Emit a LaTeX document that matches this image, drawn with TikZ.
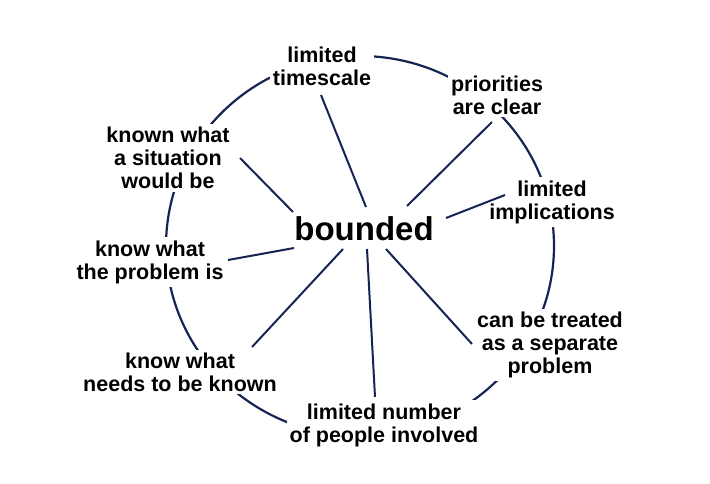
\documentclass[tikz,border=0pt]{standalone}
\usepackage{fontspec}
\setmainfont{Liberation Sans}
\usepackage{tikz}
\usetikzlibrary{calc}
\definecolor{ringblue}{RGB}{22,36,84}

\begin{document}
\begin{tikzpicture}[
x=1pt,
y=-1pt,
every node/.style={font=\bfseries\fontsize{21.5}{23}\selectfont},
topic/.style={fill=white,align=center,inner sep=3pt},
core/.style={font=\bfseries\fontsize{33}{36}\selectfont,inner sep=0pt},
ring/.style={draw=ringblue,line width=2.2pt},
spoke/.style={draw=ringblue,line width=2pt}
]
\useasboundingbox (0,0) rectangle (710,483);
\coordinate (ctr) at (360,246);
\draw[ring] (ctr) ellipse [x radius=194pt, y radius=190pt];

\node[core] (bnd) at (364,229) {bounded};
\node[topic] (ts) at (322,66) {limited\\timescale};
\node[topic] (pr) at (497,95) {priorities\\are clear};
\node[topic] (sit) at (168,158) {known what\\a situation\\would be};
\node[topic] (im) at (552,202) {limited\\implications};
\node[topic] (pb) at (150,262) {know what\\the problem is};
\node[topic] (sep) at (550,345) {can be treated\\as a separate\\problem};
\node[topic] (nk) at (180,372) {know what\\needs to be known};
\node[topic] (num) at (384,425) {limited number\\of people involved};

\draw[spoke] ($(bnd)+(2,-22)$) -- ($(ts)+(-1,29)$);
\draw[spoke] ($(bnd)+(43,-23)$) -- ($(pr)+(-5,27)$);
\draw[spoke] ($(bnd)+(-71,-17)$) -- ($(sit)+(72,0)$);
\draw[spoke] ($(bnd)+(82,-11)$) -- ($(im)+(-47,-7)$);
\draw[spoke] ($(bnd)+(-70,19)$) -- ($(pb)+(78,-2)$);
\draw[spoke] ($(bnd)+(-21,20)$) -- ($(nk)+(72,-25)$);
\draw[spoke] ($(bnd)+(3,20)$) -- ($(num)+(-9,-28)$);
\draw[spoke] ($(bnd)+(22,20)$) -- ($(sep)+(-78,-1)$);
\end{tikzpicture}
\end{document}
